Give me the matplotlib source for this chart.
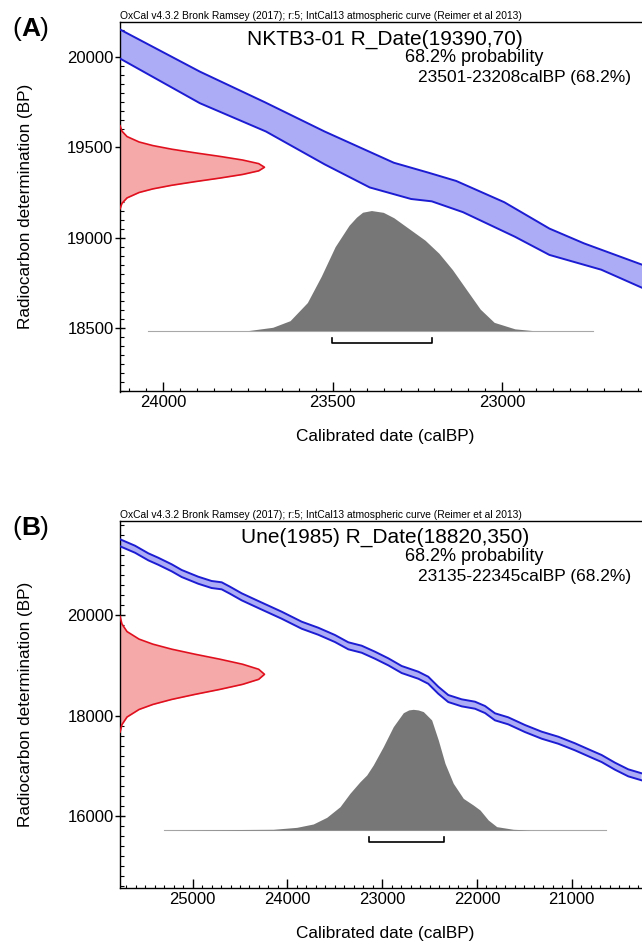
import matplotlib
matplotlib.use("Agg")
import matplotlib.pyplot as plt
from matplotlib.ticker import MultipleLocator

plt.rcParams['font.family'] = ['Liberation Sans', 'DejaVu Sans']

# ---- panel A data ----
cal_a_up = [24129, 23892, 23700, 23524, 23320, 23218, 23136, 22994, 22861, 22759, 22588]
bp_a_up = [20155, 19920, 19750, 19588, 19415, 19360, 19314, 19196, 19050, 18968, 18850]
cal_a_lo = [24129, 23892, 23697, 23524, 23391, 23269, 23208, 23116, 22963, 22861, 22708, 22588]
bp_a_lo = [19994, 19745, 19588, 19406, 19278, 19214, 19201, 19141, 19005, 18904, 18822, 18722]

red_a_bp = [19620, 19590, 19560, 19530, 19510, 19490, 19470, 19450, 19430, 19410, 19390,
            19370, 19350, 19330, 19310, 19290, 19270, 19250, 19220, 19190, 19160]
red_a_rel = [0.004, 0.017, 0.052, 0.135, 0.23, 0.36, 0.52, 0.693, 0.849, 0.96, 1.0,
             0.96, 0.849, 0.693, 0.52, 0.36, 0.23, 0.135, 0.052, 0.017, 0.004]

cal_g_a = [24044, 23748, 23677, 23626, 23575, 23534, 23493, 23452, 23430, 23412, 23386, 23351,
           23320, 23289, 23228, 23187, 23147, 23106, 23065, 23024, 22963, 22912, 22733]
prob_g_a = [0, 0, 0.027, 0.082, 0.233, 0.452, 0.699, 0.877, 0.945, 0.986, 1.0, 0.985,
            0.94, 0.877, 0.753, 0.644, 0.507, 0.342, 0.178, 0.068, 0.014, 0, 0]
range_a = (23501, 23208)

# ---- panel B data ----
cal_b = [25771, 25607, 25467, 25362, 25220, 25115, 24940, 24799, 24693, 24605,
         24482, 24307, 24060, 23849, 23674, 23498, 23357, 23216, 23076, 22935,
         22794, 22619, 22514, 22408, 22303, 22161, 22021, 21915, 21810, 21670,
         21494, 21317, 21142, 20966, 20790, 20685, 20544, 20404, 20263]
bp_b_up = [21512, 21379, 21228, 21140, 21009, 20896, 20762, 20677, 20651, 20563,
           20432, 20279, 20066, 19867, 19747, 19602, 19457, 19389, 19270, 19138,
           18985, 18872, 18772, 18573, 18408, 18322, 18275, 18189, 18044, 17964,
           17811, 17678, 17578, 17447, 17300, 17214, 17061, 16929, 16850]
bp_b_lo = [21372, 21239, 21088, 21000, 20869, 20756, 20622, 20537, 20511, 20423,
           20292, 20139, 19926, 19727, 19607, 19462, 19317, 19249, 19130, 18998,
           18845, 18732, 18632, 18433, 18268, 18182, 18135, 18049, 17904, 17824,
           17671, 17538, 17438, 17307, 17160, 17074, 16921, 16789, 16710]

red_b_bp = [19970, 19820, 19670, 19520, 19420, 19320, 19220, 19120, 19020, 18920, 18820,
            18720, 18620, 18520, 18420, 18320, 18220, 18120, 17970, 17820, 17670]
red_b_rel = red_a_rel

cal_g_b = [25303, 24149, 23902, 23727, 23585, 23445, 23340, 23234, 23163, 23094,
           22988, 22883, 22777, 22720, 22672, 22620, 22566, 22478, 22408, 22337, 22250, 22144,
           22039, 21968, 21881, 21792, 21617, 21441, 20635]
prob_g_b = [0, 0.006, 0.022, 0.05, 0.105, 0.193, 0.304, 0.4, 0.456, 0.539,
            0.691, 0.856, 0.972, 0.995, 1.0, 0.995, 0.981, 0.912, 0.746, 0.552, 0.387, 0.262,
            0.207, 0.166, 0.083, 0.028, 0.006, 0, 0]
range_b = (23135, 22345)

oxcal = "OxCal v4.3.2 Bronk Ramsey (2017); r:5; IntCal13 atmospheric curve (Reimer et al 2013)"

W, H = 642, 946
fig = plt.figure(figsize=(W / 100, H / 100), dpi=100)


def fx(x):
    return x / W


def fy(y):
    return 1 - y / H


def panel(top, bottom, xlim, ylim, xstep, ystep, band, red_bp, red_rel, g_cal, g_prob,
          base, g_h, rng, letter, title, rtext):
    ax = fig.add_axes([fx(119.5), fy(bottom), 1 - fx(119.5), (bottom - top) / H])
    ax.set_xlim(xlim)
    ax.set_ylim(ylim)
    px_per_bp = (bottom - top) / (ylim[1] - ylim[0])

    # calibration curve band
    cu, bu, cl, bl = band
    ax.fill(list(cu) + list(cl[::-1]), list(bu) + list(bl[::-1]),
            facecolor='#ababf6', edgecolor='none', zorder=2)
    ax.plot(cu, bu, color='#1c1cd2', lw=1.4, zorder=3)
    ax.plot(cl, bl, color='#1c1cd2', lw=1.4, zorder=3)

    # radiocarbon date (red)
    tr = ax.get_yaxis_transform()
    xs = [r * 0.2775 for r in red_rel]
    ax.fill_betweenx(red_bp, 0, xs, transform=tr, color='#f6a9a9', lw=0, zorder=2)
    ax.plot(xs, red_bp, transform=tr, color='#e0101e', lw=1.2, zorder=3)

    # calibrated distribution (grey)
    ax.plot([g_cal[0], g_cal[-1]], [base, base], color='#a8a8a8', lw=0.8, zorder=2)
    ax.fill_between(g_cal, base, [base + p * g_h for p in g_prob], color='#777777', lw=0, zorder=3)

    # 68.2% range bracket
    yb = base - 12 / px_per_bp
    yt = yb + 5 / px_per_bp
    ax.plot([rng[0], rng[0], rng[1], rng[1]], [yt, yb, yb, yt], color='black', lw=1.2, zorder=3)

    for s in ['left', 'bottom', 'top']:
        ax.spines[s].set_linewidth(1.0)
    ax.spines['right'].set_visible(False)
    ax.xaxis.set_major_locator(MultipleLocator(xstep[0]))
    ax.xaxis.set_minor_locator(MultipleLocator(xstep[1]))
    ax.yaxis.set_major_locator(MultipleLocator(ystep[0]))
    ax.yaxis.set_minor_locator(MultipleLocator(ystep[1]))
    ax.tick_params(axis='y', which='major', direction='inout', length=6.5, width=1, pad=1, labelsize=12)
    ax.tick_params(axis='y', which='minor', direction='in', length=2.9, width=0.8)
    ax.tick_params(axis='x', which='major', direction='in', length=6.5, width=1, pad=2.5, labelsize=12)
    ax.tick_params(axis='x', which='minor', direction='in', length=2.4, width=0.8)

    # texts
    t = fig.text(fx(119.5), fy(top - 1), oxcal, ha='left', va='bottom', fontsize=8,
                 family=['Liberation Sans Narrow', 'Liberation Sans', 'DejaVu Sans'])
    fig.canvas.draw()
    w = t.get_window_extent().width
    t.set_fontsize(8 * 405 / w)
    fig.text(fx(385), fy(top + 17), title, ha='center', va='center', fontsize=15)
    fig.text(fx(405), fy(top + 35.5), "68.2% probability", ha='left', va='center', fontsize=13)
    fig.text(fx(417.5), fy(top + 55.5), rtext, ha='left', va='center', fontsize=12.5)
    fig.text(fx(26), fy((top + bottom) / 2), "Radiocarbon determination (BP)",
             rotation=90, ha='center', va='center', fontsize=12.3)
    fig.text(fx(385), fy(bottom + 45), "Calibrated date (calBP)", ha='center', va='center', fontsize=12.4)

    # panel letter: "(" + bold letter + ")"
    x = 12
    for piece, wt in [("(", 'normal'), (letter, 'bold'), (")", 'normal')]:
        tt = fig.text(fx(x), fy(top + 7), piece, ha='left', va='center', fontsize=19, fontweight=wt)
        fig.canvas.draw()
        x += tt.get_window_extent().width
    return ax


panel(22, 391.5, (24129, 22588), (18147, 20195), (500, 50), (500, 50),
      (cal_a_up, bp_a_up, cal_a_lo, bp_a_lo), red_a_bp, red_a_rel, cal_g_a, prob_g_a,
      18485, 665, range_a, "A", "NKTB3-01 R_Date(19390,70)", "23501-23208calBP (68.2%)")

panel(520.7, 888.4, (25771, 20259), (14559, 21877), (1000, 100), (2000, 200),
      (cal_b, bp_b_up, cal_b, bp_b_lo), red_b_bp, red_b_rel, cal_g_b, prob_g_b,
      15721, 2402, range_b, "B", "Une(1985) R_Date(18820,350)", "23135-22345calBP (68.2%)")

fig.savefig("out.png", dpi=100)
